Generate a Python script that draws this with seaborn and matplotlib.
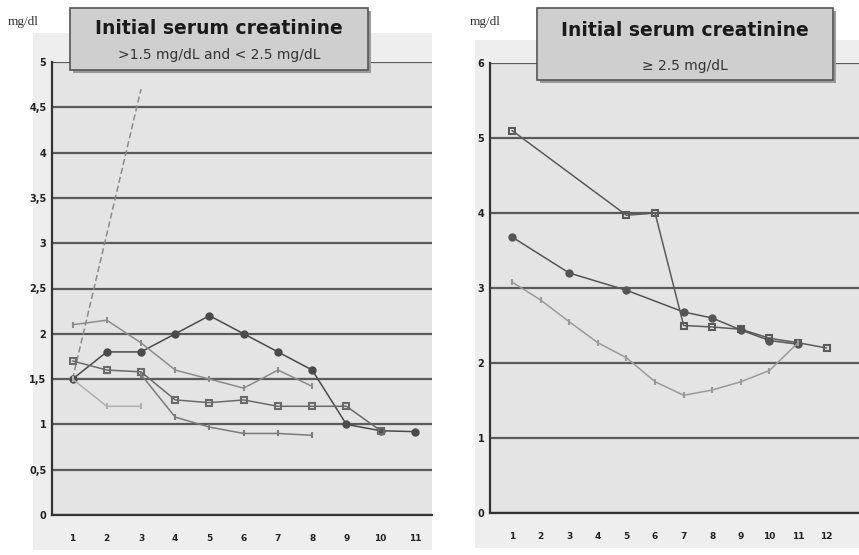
import numpy as np
import pandas as pd
import matplotlib.pyplot as plt
import seaborn as sns
from matplotlib.patches import Rectangle

# left panel: initial creatinine 1.5 - 2.5
l_cats = [1, 2, 3, 4, 5, 6, 7, 8, 9, 10, 11]
l_ticks = ["0", "0,5", "1", "1,5", "2", "2,5", "3", "3,5", "4", "4,5", "5"]

la_x = [1, 3]
la_y = [1.5, 4.7]
lb_x = [1, 2, 3, 4, 5, 6, 7, 8, 9, 10, 11]
lb_y = [1.5, 1.8, 1.8, 2.0, 2.2, 2.0, 1.8, 1.6, 1.0, 0.93, 0.92]
lc_x = [1, 2, 3, 4, 5, 6, 7, 8]
lc_y = [2.1, 2.15, 1.9, 1.6, 1.5, 1.4, 1.6, 1.42]
ld_x = [1, 2, 3, 4, 5, 6, 7, 8, 9, 10]
ld_y = [1.7, 1.6, 1.58, 1.27, 1.24, 1.27, 1.2, 1.2, 1.2, 0.93]
le_x = [1, 2, 3]
le_y = [1.5, 1.2, 1.2]
lf_x = [3, 4, 5, 6, 7, 8]
lf_y = [1.55, 1.08, 0.97, 0.9, 0.9, 0.88]

# right panel: initial creatinine >= 2.5
r_cats = [1, 2, 3, 4, 5, 6, 7, 8, 9, 10, 11, 12]
r_ticks = ["0", "1", "2", "3", "4", "5", "6"]

ra_x = [1, 5, 6, 7, 8, 9, 10, 11, 12]
ra_y = [5.1, 3.97, 4.0, 2.5, 2.48, 2.45, 2.33, 2.27, 2.2]
rb_x = [1, 3, 5, 7, 8, 9, 10, 11]
rb_y = [3.68, 3.2, 2.97, 2.68, 2.6, 2.44, 2.3, 2.25]
rc_x = [1, 2, 3, 4, 5, 6, 7, 8, 9, 10, 11]
rc_y = [3.08, 2.84, 2.55, 2.27, 2.07, 1.75, 1.57, 1.64, 1.75, 1.9, 2.27]

sns.set_style("white")
plt.rcParams['font.family'] = ['DejaVu Sans']

fig = plt.figure(figsize=(8.59, 5.55), dpi=100)
W, H = 859, 555

def px(x0, y0, x1, y1):
    # pixel box -> figure fraction
    return [x0 / W, 1 - y1 / H, (x1 - x0) / W, (y1 - y0) / H]

# chart area backgrounds
for x0, y0, x1, y1 in [(33, 33, 432, 550), (475, 40, 859, 548)]:
    b = px(x0, y0, x1, y1)
    fig.patches.append(Rectangle((b[0], b[1]), b[2], b[3], transform=fig.transFigure,
                                 facecolor="#eeeeee", edgecolor="none", zorder=-5))

ax1 = fig.add_axes(px(52, 62, 432, 515))
ax2 = fig.add_axes(px(490, 63, 859, 513))

left_series = [
    (la_x, la_y, "#8a8a8a", "", (0, (4, 2))),
    (lb_x, lb_y, "#4a4a4a", "o", "-"),
    (lc_x, lc_y, "#8c8c8c", "|", "-"),
    (ld_x, ld_y, "#6a6a6a", "s", "-"),
    (le_x, le_y, "#b0b0b0", "|", "-"),
    (lf_x, lf_y, "#7a7a7a", "|", "-"),
]
right_series = [
    (ra_x, ra_y, "#5a5a5a", "s", "-"),
    (rb_x, rb_y, "#555555", "o", "-"),
    (rc_x, rc_y, "#9a9a9a", "|", "-"),
]

for ax, series, ymax, step, ticks, cats, xlim in [
        (ax1, left_series, 5, 0.5, l_ticks, l_cats, (0.4, 11.5)),
        (ax2, right_series, 6, 1, r_ticks, r_cats, (0.23, 13.13))]:
    ax.set_facecolor("#e4e4e4")
    yv = np.arange(0, ymax + step / 2, step)
    for v in yv:
        ax.axhline(v, color="#5a5a5a", lw=1.6, zorder=1)
    for xs, ys, col, mk, ls in series:
        sns.lineplot(x=xs, y=ys, ax=ax, color=col, marker=mk if mk else None,
                     markersize=4.5, markeredgewidth=1.5, markeredgecolor=col,
                     markerfacecolor="none" if mk == "s" else col,
                     linewidth=1.1, linestyle=ls, zorder=3)
    ax.set_xlim(*xlim)
    ax.set_ylim(0, ymax)
    ax.set_yticks(yv)
    ax.set_yticklabels(ticks, fontsize=7, fontweight="bold", color="#222222")
    ax.set_xticks(cats)
    ax.set_xticklabels([str(c) for c in cats], fontsize=6.5, fontweight="bold", color="#222222")
    ax.set_xticks(np.array(cats[:-1]) + 0.5, minor=True)
    ax.tick_params(axis="x", which="major", length=0, pad=14)
    ax.tick_params(axis="x", which="minor", length=3, color="#444444", direction="out")
    ax.tick_params(axis="y", length=3, width=2, color="#222222", pad=1)
    for s in ["top", "right"]:
        ax.spines[s].set_visible(False)
    ax.spines["left"].set_color("#333333")
    ax.spines["left"].set_linewidth(1.6)
    ax.spines["bottom"].set_color("#333333")
    ax.spines["bottom"].set_linewidth(1.6)
    ax.set_xlabel("")
    ax.set_ylabel("")

# unit labels
fig.text(8 / W, 1 - 22 / H, "mg/dl", family="Liberation Serif", fontsize=9.5,
         color="#333333", va="center")
fig.text(470 / W, 1 - 22 / H, "mg/dl", family="Liberation Serif", fontsize=9.5,
         color="#333333", va="center")

# title boxes
for (x0, y0, x1, y1), sub, ys in [
        ((70, 8, 368, 70), ">1.5 mg/dL and < 2.5 mg/dL", (28, 55)),
        ((537, 8, 833, 80), "≥ 2.5 mg/dL", (30, 66))]:
    b = px(x0 + 3, y0 + 3, x1 + 3, y1 + 3)
    fig.patches.append(Rectangle((b[0], b[1]), b[2], b[3], transform=fig.transFigure,
                                 facecolor="#9a9a9a", edgecolor="none", zorder=5))
    b = px(x0, y0, x1, y1)
    fig.patches.append(Rectangle((b[0], b[1]), b[2], b[3], transform=fig.transFigure,
                                 facecolor="#cfcfcf", edgecolor="#555555", lw=1.2, zorder=6))
    xc = (x0 + x1) / 2 / W
    fig.text(xc, 1 - ys[0] / H, "Initial serum creatinine", ha="center", va="center",
             fontsize=13.5, fontweight="bold", color="#1a1a1a", zorder=7)
    fig.text(xc, 1 - ys[1] / H, sub, ha="center", va="center",
             fontsize=10, color="#333333", zorder=7)

fig.savefig("out.png", dpi=100)
